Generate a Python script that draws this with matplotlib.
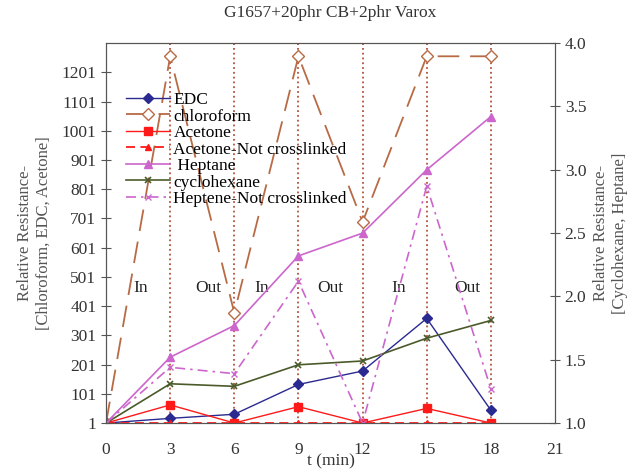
import numpy as np
import matplotlib
matplotlib.use("Agg")
import matplotlib.pyplot as plt

plt.rcParams['font.family'] = ['Liberation Serif', 'DejaVu Serif']

# -----------------------------
# DATA
# -----------------------------
t = [0, 3, 6, 9, 12, 15, 18]

# left axis: chloroform, EDC, acetone
edc = [1, 17, 31, 133, 179, 359, 45]
chloroform = [1, 1256, 378, 1256, 689, 1256, 1256]
acetone = [1, 63, 1, 57, 1, 51, 1]
acetone_nc = [1, 1, 1, 1, 1, 1, 1]

# right axis: cyclohexane, heptane
heptane = [1.0, 1.52, 1.77, 2.32, 2.50, 3.00, 3.42]
cyclohexane = [1.0, 1.31, 1.29, 1.46, 1.49, 1.67, 1.81]
heptane_nc = [1.0, 1.44, 1.39, 2.12, 1.0, 2.87, 1.27]

phase_x = [1.6, 4.8, 7.3, 10.5, 13.7, 16.9]
phase_txt = ["In", "Out", "In", "Out", "In", "Out"]

left_ticks = list(range(1, 1202, 100))
right_ticks = [1.0, 1.5, 2.0, 2.5, 3.0, 3.5, 4.0]
x_ticks = [0, 3, 6, 9, 12, 15, 18, 21]

# -----------------------------
# FIGURE
# -----------------------------
fig = plt.figure(figsize=(6.35, 4.69), dpi=100)
ax = fig.add_axes([0.167, 0.098, 0.707, 0.81])
ax2 = ax.twinx()

spine_col = "#555555"
for a in (ax, ax2):
    for s in a.spines.values():
        s.set_color(spine_col)

# vertical dotted lines
for xv in [3, 6, 9, 12, 15, 18]:
    ax.axvline(xv, color="#b5533a", ls=":", lw=1.3, zorder=1)

h_edc, = ax.plot(t, edc, color="#2a2a90", marker="D", ms=5, lw=1, label="EDC", zorder=5)
h_chl, = ax.plot(t, chloroform, color="#b86a45", marker="D", ms=6, mfc="white",
                 lw=1.3, dashes=(12, 6), label="chloroform", zorder=4)
h_ace, = ax.plot(t, acetone, color="#ff1a1a", marker="s", ms=6, lw=1, label="Acetone", zorder=6)
h_acn, = ax.plot(t, acetone_nc, color="#ff1a1a", marker="^", ms=5, lw=1.3, dashes=(5, 3),
                 label="Acetone-Not crosslinked", zorder=5)

h_hep, = ax2.plot(t, heptane, color="#cc66cc", marker="^", ms=6, lw=1.2, label=" Heptane")
h_cyc, = ax2.plot(t, cyclohexane, color="#4b5a2a", marker="x", ms=4, mew=1.2, lw=1.2,
                  label="cyclohexane")
h_hnc, = ax2.plot(t, heptane_nc, color="#cc66cc", marker="x", ms=5, lw=1.2,
                  dashes=(6, 3, 1.5, 3), label="Heptene-Not crosslinked")

ax.set_xlim(0, 21)
ax.set_ylim(1, 1301)
ax2.set_ylim(1.0, 4.0)
ax.set_xticks(x_ticks)
ax.set_yticks(left_ticks)
ax2.set_yticks(right_ticks)
ax2.set_yticklabels([f"{v:.1f}" for v in right_ticks])

ax.tick_params(axis="y", direction="inout", length=7, colors=spine_col, labelcolor="#333333", labelsize=12.5)
ax.tick_params(axis="x", length=0, labelcolor="#333333", labelsize=12.5, pad=14)
ax2.tick_params(axis="y", direction="inout", length=7, colors=spine_col, labelcolor="#333333", labelsize=12.5)

for xp, tx in zip(phase_x, phase_txt):
    ax.text(xp, 462, tx, ha="center", va="center", fontsize=12.5, color="#222222")

ax.set_title("G1657+20phr CB+2phr Varox", fontsize=12.5, color="#333333", pad=19)
ax.set_xlabel("t (min)", fontsize=12.5, color="#333333", labelpad=-4)
ax.set_ylabel("Relative Resistance-\n[Chloroform, EDC, Acetone]", fontsize=12,
              color="#555555", labelpad=7)
ax2.set_ylabel("Relative Resistance-\n[Cyclohexane, Heptane]", fontsize=12,
               color="#555555", labelpad=5)

handles = [h_edc, h_chl, h_ace, h_acn, h_hep, h_cyc, h_hnc]
ax.legend(handles=handles, loc="upper left", bbox_to_anchor=(0.03, 0.89), frameon=False,
          fontsize=12.5, handlelength=2.5, handletextpad=0.2, labelspacing=0.02,
          borderaxespad=0)

fig.savefig("out.png", dpi=100)
